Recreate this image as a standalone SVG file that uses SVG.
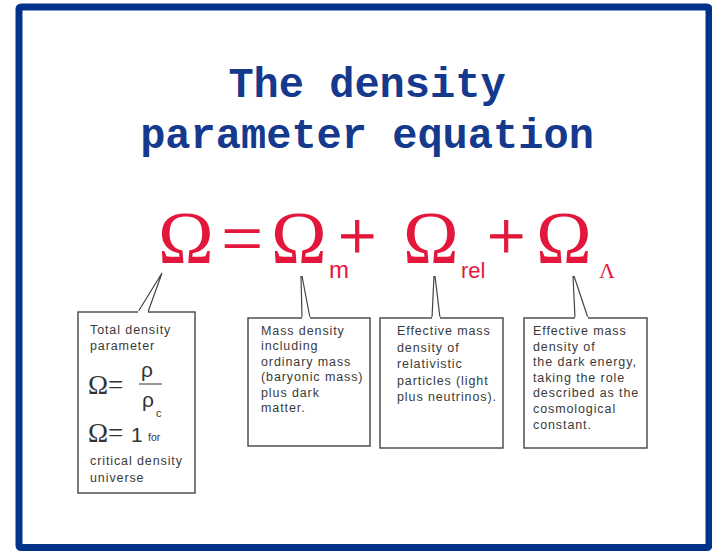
<svg xmlns="http://www.w3.org/2000/svg" width="712" height="551" viewBox="0 0 712 551">
<style>
.title{font-family:"Liberation Mono","DejaVu Sans Mono",monospace;font-weight:bold;font-size:42px;fill:#15398c;text-anchor:middle}
.eq{font-family:"Liberation Serif","Times New Roman",serif;fill:#e3173b}
.sub{font-family:"Liberation Sans",Arial,sans-serif;fill:#e3173b}
.box{fill:#ffffff;stroke:#444;stroke-width:1.4}
.ptr{fill:none;stroke:#444;stroke-width:1.2}
.lbl{font-family:"Liberation Sans",Arial,sans-serif;font-size:12.5px;letter-spacing:0.9px;fill:#3a3a3a}
.ser{font-family:"Liberation Serif","Times New Roman",serif;fill:#333}
.sans{font-family:"Liberation Sans",Arial,sans-serif;fill:#333}
</style>
<rect x="0" y="0" width="712" height="551" fill="#ffffff"/>
<rect id="frame" x="19" y="7" width="690" height="540.5" rx="2" fill="#ffffff" stroke="#01338a" stroke-width="7"/>
<g id="title">
<text class="title" x="367" y="97">The density</text>
<text class="title" x="367" y="147.5">parameter equation</text>
</g>
<g id="equation">
<text class="eq" x="158" y="263" font-size="75">Ω</text>
<text class="eq" x="221" y="263" font-size="75">=</text>
<text class="eq" x="271" y="263" font-size="75">Ω</text>
<text class="sub" x="329" y="278" font-size="24">m</text>
<text class="eq" x="338" y="259" font-size="68" stroke="#e3173b" stroke-width="0.8">+</text>
<text class="eq" x="403" y="263" font-size="75">Ω</text>
<text class="sub" x="461" y="278" font-size="22">rel</text>
<text class="eq" x="487" y="259" font-size="68" stroke="#e3173b" stroke-width="0.8">+</text>
<text class="eq" x="536" y="263" font-size="75">Ω</text>
<text class="eq" x="599" y="278" font-size="22">Λ</text>
</g>
<g id="connectors">
<path class="ptr" d="M138,312 L162,273 M148,312 L162,273"/>
<path class="ptr" d="M302,318 L301,276 M310,318 L302,276"/>
<path class="ptr" d="M432,318 L434,276 M440,318 L435,276"/>
<path class="ptr" d="M575,318 L573,276 M588,318 L574,276"/>
</g>
<g id="box-total">
<rect class="box" x="78" y="312" width="117" height="181"/>
<line x1="138" y1="312" x2="148" y2="312" stroke="#fff" stroke-width="2.5"/>
<text class="lbl" x="90" y="334">Total density</text>
<text class="lbl" x="90" y="350">parameter</text>
<text class="ser" x="88" y="394" font-size="27">Ω=</text>
<text class="sans" x="141" y="377" font-size="21">ρ</text>
<line x1="139" y1="384" x2="162" y2="384" stroke="#444" stroke-width="1.1"/>
<text class="sans" x="142" y="407" font-size="21">ρ</text>
<text class="sans" x="156" y="417" font-size="11">c</text>
<text class="ser" x="88" y="442" font-size="27">Ω=</text>
<text class="sans" x="131" y="442" font-size="21">1</text>
<text class="sans" x="148" y="441" font-size="10.5">for</text>
<text class="lbl" x="90" y="465">critical density</text>
<text class="lbl" x="90" y="482">universe</text>
</g>
<g id="box-mass">
<rect class="box" x="248" y="318" width="122" height="128"/>
<line x1="302" y1="318" x2="310" y2="318" stroke="#fff" stroke-width="2.5"/>
<text class="lbl" x="261" y="335">Mass density</text>
<text class="lbl" x="261" y="350.4">including</text>
<text class="lbl" x="261" y="365.8">ordinary mass</text>
<text class="lbl" x="261" y="381.2">(baryonic mass)</text>
<text class="lbl" x="261" y="396.6">plus dark</text>
<text class="lbl" x="261" y="412">matter.</text>
</g>
<g id="box-rel">
<rect class="box" x="380" y="318" width="123" height="130"/>
<line x1="432" y1="318" x2="440" y2="318" stroke="#fff" stroke-width="2.5"/>
<text class="lbl" x="397" y="335">Effective mass</text>
<text class="lbl" x="397" y="351.5">density of</text>
<text class="lbl" x="397" y="368">relativistic</text>
<text class="lbl" x="397" y="384.5">particles (light</text>
<text class="lbl" x="397" y="401">plus neutrinos).</text>
</g>
<g id="box-lambda">
<rect class="box" x="524" y="318" width="123" height="130"/>
<line x1="575" y1="318" x2="588" y2="318" stroke="#fff" stroke-width="2.5"/>
<text class="lbl" x="533" y="335">Effective mass</text>
<text class="lbl" x="533" y="350.6">density of</text>
<text class="lbl" x="533" y="366.2">the dark energy,</text>
<text class="lbl" x="533" y="381.8">taking the role</text>
<text class="lbl" x="533" y="397.4">described as the</text>
<text class="lbl" x="533" y="413">cosmological</text>
<text class="lbl" x="533" y="428.6">constant.</text>
</g>
</svg>
